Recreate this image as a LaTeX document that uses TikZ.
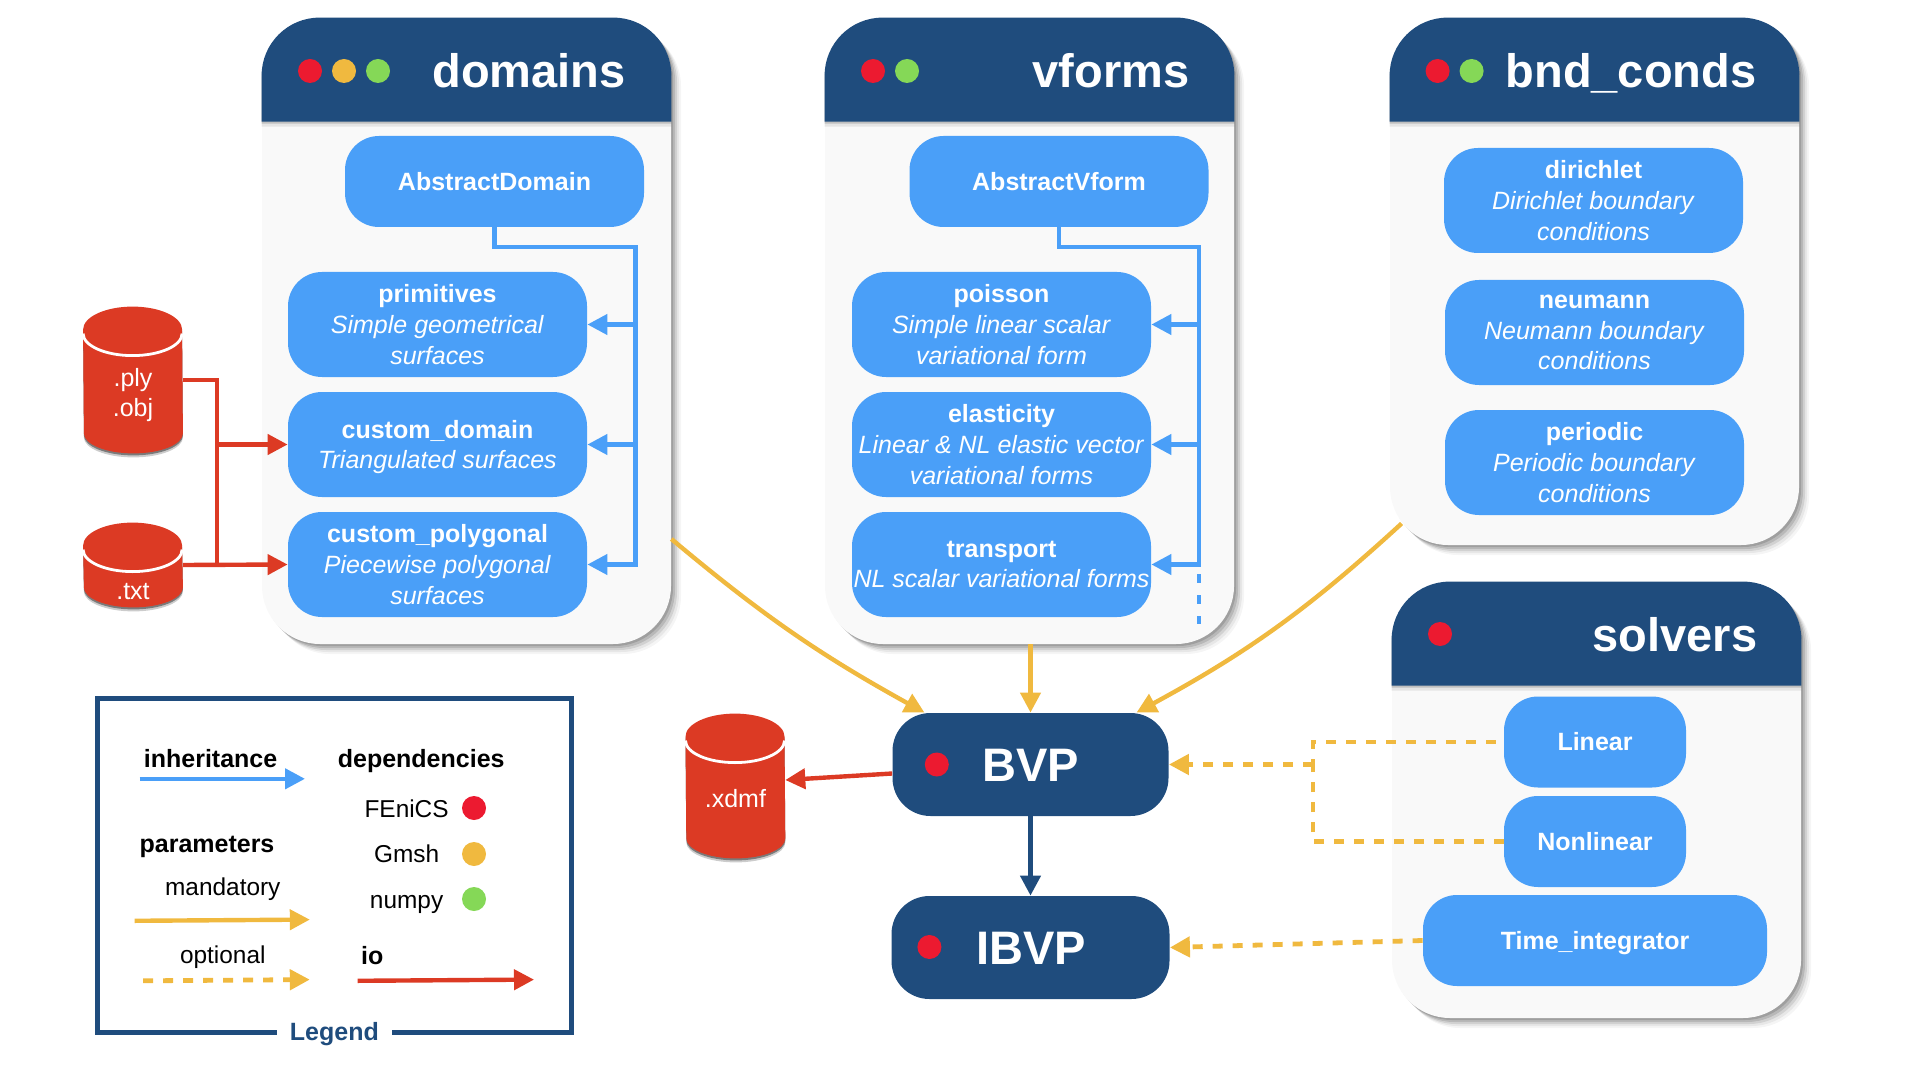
\documentclass[tikz,border=0pt]{standalone}
\usepackage{fontspec}
\setmainfont{Liberation Sans}
\usetikzlibrary{arrows.meta,shadows}
\definecolor{navy}{HTML}{1F4C7D}
\definecolor{skyblue}{HTML}{4A9FF8}
\definecolor{ioorange}{HTML}{DC3A24}
\definecolor{paramyellow}{HTML}{F0B93F}
\definecolor{fenicsred}{HTML}{EC1A30}
\definecolor{numpygreen}{HTML}{85D857}
\definecolor{panelgray}{HTML}{F9F9F9}
\newcommand{\drumbody}[1]{
	\fill[drumfill] ([yshift=-11.5pt]#1.north west)
		arc[start angle=180, end angle=0, x radius=24.75pt, y radius=11.5pt]
		-- ([yshift=10pt]#1.south east)
		arc[start angle=0, end angle=-180, x radius=24.75pt, y radius=10pt] -- cycle;
	\draw[white, line width=1.4pt] ([yshift=-13.5pt]#1.north west)
		arc[start angle=180, end angle=360, x radius=24.75pt, y radius=11pt];
}
\begin{document}
\begin{tikzpicture}[x=1pt,y=1pt]
	\tikzstyle{softshadow} = [
		general shadow={shadow xshift=1pt, shadow yshift=-1pt, fill=black, opacity=.14},
		general shadow={shadow xshift=2pt, shadow yshift=-2pt, fill=black, opacity=.12},
		general shadow={shadow xshift=3pt, shadow yshift=-3pt, fill=black, opacity=.09},
		general shadow={shadow xshift=4pt, shadow yshift=-4pt, fill=black, opacity=.06},
		general shadow={shadow xshift=5pt, shadow yshift=-5pt, fill=black, opacity=.04}];
	\tikzstyle{panel} = [
		fill=panelgray, rectangle, rounded corners=29pt,
		minimum width=204.5pt, softshadow];
	\tikzstyle{header} = [
		fill=navy,
		general shadow={shadow yshift=-1pt, fill=black, opacity=.16},
		general shadow={shadow yshift=-2.5pt, fill=black, opacity=.08}];
	\tikzstyle{title} = [
		text=white, inner sep=0pt, text height=17pt, text depth=0pt,
		font={\fontsize{23.5}{28}\selectfont\bfseries}];
	\tikzstyle{dot} = [
		circle, inner sep=0pt, minimum size=12pt,
		node distance=17pt];
	\tikzstyle{module} = [
		fill=skyblue, text=white, rectangle, rounded corners=17pt,
		minimum width=149.5pt, minimum height=52.5pt,
		align=center, inner sep=0pt, node distance=60pt,
		font={\fontsize{12.5}{15.4}\selectfont}];
	\tikzstyle{problem} = [
		fill=navy, rectangle, rounded corners=19pt,
		minimum width=138pt, minimum height=51.5pt];
	\tikzstyle{drum} = [
		rectangle, inner sep=0pt, minimum width=49.5pt];
	\tikzstyle{drumfill} = [
		fill=ioorange,
		general shadow={shadow yshift=-1pt, fill=black, opacity=.4},
		general shadow={shadow yshift=-2pt, fill=black, opacity=.2}];
	\tikzstyle{drumtext} = [
		text=white, align=center, inner sep=0pt,
		font={\fontsize{12.5}{15.4}\selectfont}];
	\tikzstyle{legendtext} = [
		inner sep=0pt, text height=9pt, text depth=0pt,
		font={\fontsize{12.2}{15}\selectfont}];
	\tikzstyle{legendhead} = [
		inner sep=0pt, text height=9pt, text depth=0pt,
		font={\fontsize{12.5}{15}\selectfont\bfseries}];

	\tikzstyle{inherit} = [
		skyblue, line width=2.2pt, ->,
		>={Triangle[length=10pt, width=10pt]}];
	\tikzstyle{trunk} = [
		skyblue, line width=2.2pt];
	\tikzstyle{mandatory} = [
		paramyellow, line width=2.2pt, ->,
		>={Triangle[length=10pt, width=10pt]}];
	\tikzstyle{optional} = [
		paramyellow, line width=2.4pt, dash pattern=on 5pt off 5pt];
	\tikzstyle{optionalarrow} = [
		optional, ->,
		>={Triangle[length=10pt, width=10pt]}];
	\tikzstyle{io} = [
		ioorange, line width=2.2pt, ->,
		>={Triangle[length=10pt, width=10pt]}];
	\tikzstyle{ioline} = [
		ioorange, line width=2.2pt];
	\tikzstyle{evolve} = [
		navy, line width=2.2pt, ->,
		>={Triangle[length=10pt, width=10pt]}];

	\useasboundingbox (0,0) rectangle (960,-540);

	% panels
	\node[panel, minimum height=313pt] (domains) at (233.25,-165.5) {};
	\node[panel, minimum height=313pt, right of=domains, node distance=281.5pt] (vforms) {};
	\node[panel, minimum height=263.5pt] (bndconds) at (797.25,-140.75) {};
	\node[panel, minimum height=218pt] (solvers) at (798.25,-400) {};

	\fill[header] ([yshift=-52pt]domains.north west) [rounded corners=29pt] -- (domains.north west)
		-- (domains.north east) [sharp corners] -- ([yshift=-52pt]domains.north east) -- cycle;
	\fill[header] ([yshift=-52pt]vforms.north west) [rounded corners=29pt] -- (vforms.north west)
		-- (vforms.north east) [sharp corners] -- ([yshift=-52pt]vforms.north east) -- cycle;
	\fill[header] ([yshift=-52pt]bndconds.north west) [rounded corners=29pt] -- (bndconds.north west)
		-- (bndconds.north east) [sharp corners] -- ([yshift=-52pt]bndconds.north east) -- cycle;
	\fill[header] ([yshift=-52pt]solvers.north west) [rounded corners=29pt] -- (solvers.north west)
		-- (solvers.north east) [sharp corners] -- ([yshift=-52pt]solvers.north east) -- cycle;

	\node[title] (domainstitle) at (264.5,-35.5) {domains};
	\node[title] (vformstitle) at (555.5,-35.5) {vforms};
	\node[title] (bndcondstitle) at (815.5,-35.5) {bnd\_conds};
	\node[title] (solverstitle) at (837.5,-317) {solvers};

	\node[dot, fill=fenicsred] (domfenics) at (155,-35.5) {};
	\node[dot, fill=paramyellow, right of=domfenics] (domgmsh) {};
	\node[dot, fill=numpygreen, right of=domgmsh] (domnumpy) {};
	\node[dot, fill=fenicsred] (vffenics) at (436.5,-35.5) {};
	\node[dot, fill=numpygreen, right of=vffenics] (vfnumpy) {};
	\node[dot, fill=fenicsred] (bcfenics) at (718.8,-35.5) {};
	\node[dot, fill=numpygreen, right of=bcfenics] (bcnumpy) {};
	\node[dot, fill=fenicsred] (solfenics) at (720,-317) {};

	% modules
	\node[module, minimum height=45.5pt] (abstractdomain) at (247.25,-90.75) {\textbf{AbstractDomain}};
	\node[module] (primitives) at (218.75,-162.25) {\textbf{primitives}\\\textit{Simple geometrical}\\\textit{surfaces}};
	\node[module, text depth=0pt, below of=primitives] (customdomain) {\textbf{custom\_domain}\\\textit{Triangulated surfaces}};
	\node[module, below of=customdomain] (custompolygonal) {\textbf{custom\_polygonal}\\\textit{Piecewise polygonal}\\\textit{surfaces}};

	\node[module, minimum height=45.5pt] (abstractvform) at (529.5,-90.75) {\textbf{AbstractVform}};
	\node[module] (poisson) at (500.75,-162.25) {\textbf{poisson}\\\textit{Simple linear scalar}\\\textit{variational form}};
	\node[module, below of=poisson] (elasticity) {\textbf{elasticity}\\\textit{Linear \& NL elastic vector}\\\textit{variational forms}};
	\node[module, below of=elasticity] (transport) {\textbf{transport}\\\textit{NL scalar variational forms}};

	\node[module] (dirichlet) at (796.75,-100.25) {\textbf{dirichlet}\\\textit{Dirichlet boundary}\\\textit{conditions}};
	\node[module, node distance=66pt, below of=dirichlet, xshift=.5pt] (neumann) {\textbf{neumann}\\\textit{Neumann boundary}\\\textit{conditions}};
	\node[module, node distance=65pt, below of=neumann] (periodic) {\textbf{periodic}\\\textit{Periodic boundary}\\\textit{conditions}};

	\node[module, minimum width=91pt, minimum height=45.5pt] (linear) at (797.5,-371) {\textbf{Linear}};
	\node[module, minimum width=91pt, minimum height=45.5pt, node distance=49.75pt, below of=linear] (nonlinear) {\textbf{Nonlinear}};
	\node[module, text depth=0pt, minimum width=172pt, minimum height=45.5pt, node distance=49.5pt, below of=nonlinear] (timeintegrator) {\textbf{Time\_integrator}};

	% problems
	\node[problem] (bvp) at (515.25,-382.25) {};
	\node[problem, minimum width=139pt] (ibvp) at (515.25,-473.75) {};
	\node[title] (bvptitle) at (515.5,-382.25) {BVP};
	\node[title] (ibvptitle) at (515.5,-473.75) {IBVP};
	\node[dot, fill=fenicsred] (bvpfenics) at (468.4,-382.25) {};
	\node[dot, fill=fenicsred] (ibvpfenics) at (464.7,-473.5) {};

	% files
	\node[drum, minimum height=73pt] (plyobj) at (66.5,-190) {};
	\node[drum, minimum height=42pt] (txt) at (66.5,-282.5) {};
	\node[drum, minimum height=72pt] (xdmf) at (367.7,-393) {};
	\drumbody{plyobj}
	\drumbody{txt}
	\drumbody{xdmf}
	\node[drumtext] (plyobjtext) at (66.5,-197.5) {.ply\\.obj};
	\node[drumtext] (txttext) at (66.5,-296) {.txt};
	\node[drumtext] (xdmftext) at (367.7,-399.5) {.xdmf};

	% connectors
	\coordinate (domtrunk) at (317.75,-123.5);
	\coordinate (vftrunk) at (599.5,-123.5);
	\coordinate (vfdashfrom) at (599.5,-287);
	\coordinate (vfdashto) at (599.5,-312);
	\coordinate (iotrunk) at (108.4,-190);
	\coordinate (soljoin) at (656.5,-382.25);

	\draw[inherit] (abstractdomain.south) |- (domtrunk) |- (custompolygonal.east);
	\draw[inherit] (domtrunk |- primitives.east) to (primitives.east);
	\draw[inherit] (domtrunk |- customdomain.east) to (customdomain.east);

	\draw[inherit] (abstractvform.south) |- (vftrunk) |- (transport.east);
	\draw[inherit] (vftrunk |- poisson.east) to (poisson.east);
	\draw[inherit] (vftrunk |- elasticity.east) to (elasticity.east);
	\draw[trunk, dash pattern=on 4.5pt off 6pt] (vfdashfrom) to (vfdashto);

	\draw[ioline] (plyobj.east) -- (iotrunk) -- (iotrunk |- txt.east);
	\draw[io] (iotrunk |- customdomain.west) to (customdomain.west);
	\draw[io] (txt.east) to (custompolygonal.west);
	\draw[io] ([yshift=-4.5pt]bvp.west) to ([yshift=3pt]xdmf.east);

	\draw[mandatory] ([yshift=-104pt]domains.east) to[bend right=5.5] ([xshift=-53pt]bvp.north);
	\draw[mandatory] (bvp.north |- vforms.south) to (bvp.north);
	\draw[mandatory] ([xshift=6pt,yshift=-121pt]bndconds.west) to[bend left=7] ([xshift=53pt]bvp.north);
	\draw[evolve] (bvp.south) to (ibvp.north);

	\draw[optionalarrow] (soljoin) to (bvp.east);
	\draw[optional, dash phase=6pt] (linear.west) -| (soljoin);
	\draw[optional] (nonlinear.west) -| (soljoin);
	\draw[optionalarrow] (timeintegrator.west) to (ibvp.east);

	% legend
	\node[rectangle, draw=navy, line width=2.5pt, minimum width=237pt, minimum height=167pt] (legend) at (167.2,-432.5) {};
	\node[legendhead, text depth=2.6pt, fill=white, text=navy, inner xsep=6.7pt, inner ysep=2pt] (legendtitle) at (legend.south) {Legend};

	\node[legendhead] (inheritance) at (105.3,-379) {inheritance};
	\node[legendhead] (dependencies) at (210.6,-379) {dependencies};
	\node[legendhead] (parameters) at (103.5,-421.8) {parameters};
	\node[legendhead] (iolabel) at (186.1,-477.5) {io};
	\node[legendtext] (mandatorylabel) at (111.4,-443) {mandatory};
	\node[legendtext] (optionallabel) at (111.4,-477) {optional};
	\node[legendtext] (fenicslabel) at (203.3,-404) {FEniCS};
	\node[legendtext] (gmshlabel) at (203.3,-426.5) {Gmsh};
	\node[legendtext] (numpylabel) at (203.3,-449.5) {numpy};
	\node[dot, fill=fenicsred] (legfenics) at (237,-404) {};
	\node[dot, fill=paramyellow] (leggmsh) at (237,-427) {};
	\node[dot, fill=numpygreen] (legnumpy) at (237,-449.5) {};

	\coordinate (inhfrom) at (69.8,-389.4);
	\coordinate (inhto) at (152.5,-389.4);
	\coordinate (manfrom) at (67.3,-460.4);
	\coordinate (manto) at (154.9,-459.8);
	\coordinate (optfrom) at (71.6,-490.4);
	\coordinate (optto) at (154.9,-489.8);
	\coordinate (iofrom) at (178.8,-490.4);
	\coordinate (ioto) at (267,-489.8);
	\draw[inherit] (inhfrom) to (inhto);
	\draw[mandatory] (manfrom) to (manto);
	\draw[optionalarrow] (optfrom) to (optto);
	\draw[io] (iofrom) to (ioto);
\end{tikzpicture}
\end{document}
